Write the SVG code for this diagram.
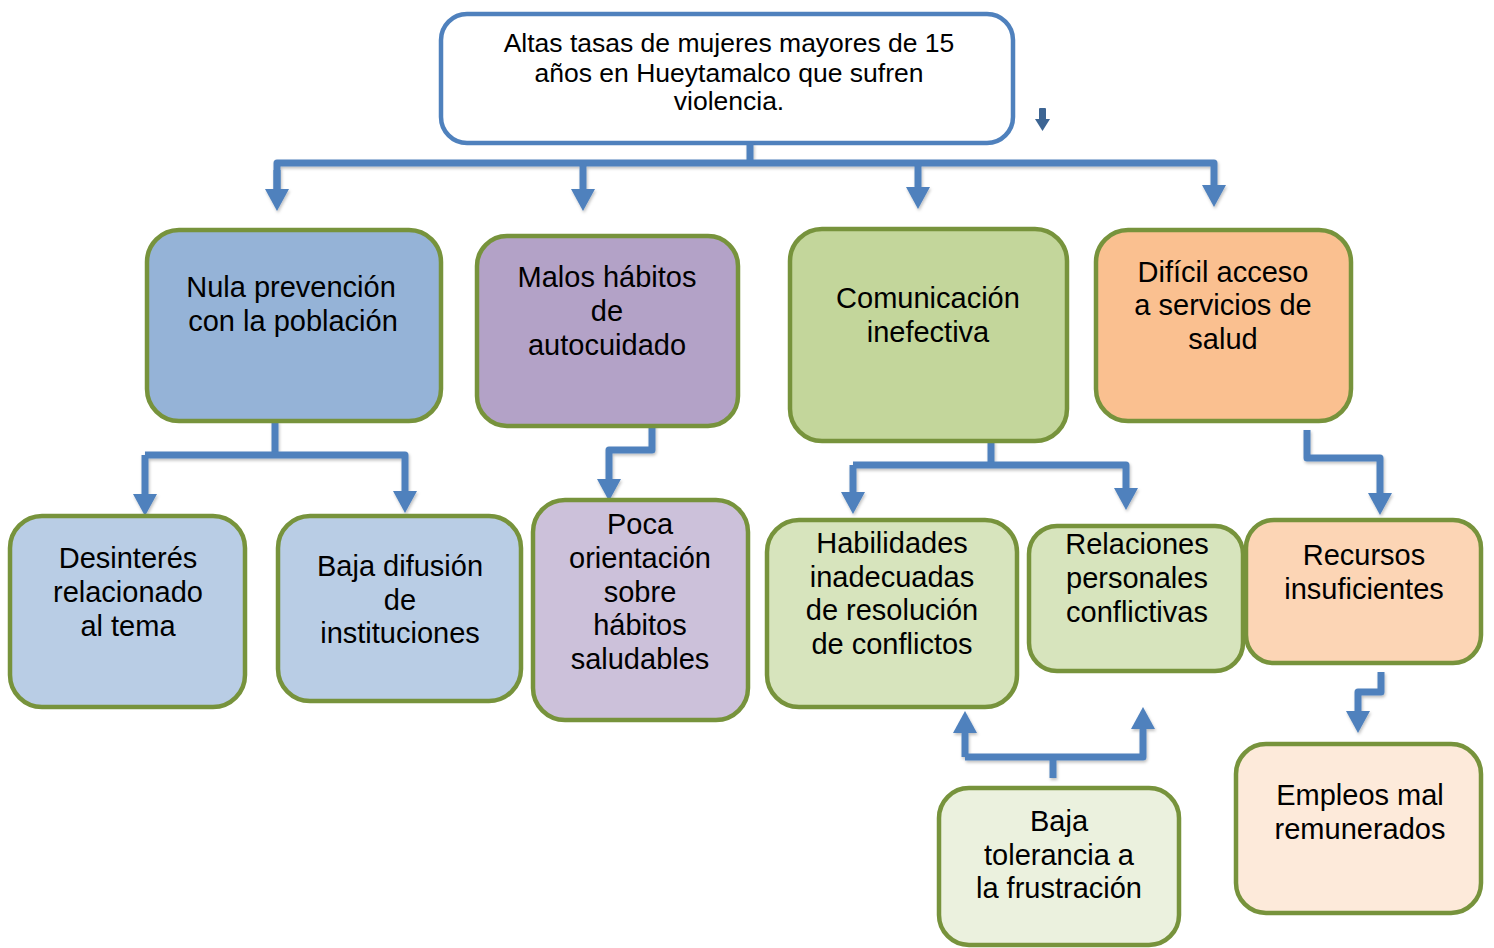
<svg xmlns="http://www.w3.org/2000/svg" width="1494" height="948" viewBox="0 0 1494 948">
<style>
.box{stroke:#77933c;stroke-width:4.5}
.t{font-family:"Liberation Sans",Arial,sans-serif;font-size:29px;fill:#000;text-anchor:middle}
.tt{font-family:"Liberation Sans",Arial,sans-serif;font-size:26.5px;fill:#000;text-anchor:middle}
.c{fill:none;stroke:#4f81bd;stroke-width:7;stroke-linejoin:round}
</style>
<defs>
<marker id="ah" markerUnits="userSpaceOnUse" markerWidth="22" markerHeight="24" viewBox="0 0 22 24" refX="1" refY="12" orient="auto">
<path d="M0,0 L22,12 L0,24 z" fill="#4f81bd"/>
</marker>
<filter id="sh" x="-5%" y="-5%" width="110%" height="120%">
<feDropShadow dx="1" dy="2" stdDeviation="1.5" flood-color="#000" flood-opacity="0.25"/>
</filter>
</defs>
<rect width="1494" height="948" fill="#fff"/>

<g id="top">
<rect x="441" y="14" width="572" height="129" rx="26" fill="#fff" stroke="#4f81bd" stroke-width="4.5"/>
<text class="tt" x="729" y="52">Altas tasas de mujeres mayores de 15</text>
<text class="tt" x="729" y="82">años en Hueytamalco que sufren</text>
<text class="tt" x="729" y="110">violencia.</text>
</g>
<g id="small-arrow">
<rect x="1039" y="108" width="7" height="13" rx="1" fill="#3d6593"/>
<polygon points="1035,119 1050,119 1042.5,131" fill="#3d6593"/>
</g>

<g id="connectors" filter="url(#sh)">
<path class="c" d="M750,143 V163"/>
<path class="c" d="M277,190 V163 H1214 V186" marker-end="url(#ah)"/>
<path class="c" d="M277,170 V190" marker-end="url(#ah)"/>
<path class="c" d="M583,163 V190" marker-end="url(#ah)"/>
<path class="c" d="M918,163 V188" marker-end="url(#ah)"/>
<path class="c" d="M275,421 V455"/>
<path class="c" d="M145,455 V495" marker-end="url(#ah)"/>
<path class="c" d="M145,455 H405 V492" marker-end="url(#ah)"/>
<path class="c" d="M652,424 V450 H609 V480" marker-end="url(#ah)"/>
<path class="c" d="M991,441 V465"/>
<path class="c" d="M853,465 V493" marker-end="url(#ah)"/>
<path class="c" d="M853,465 H1126 V489" marker-end="url(#ah)"/>
<path class="c" d="M1307,430 V458 H1380 V494" marker-end="url(#ah)"/>
<path class="c" d="M1053,778 V757"/>
<path class="c" d="M965,757 V732" marker-end="url(#ah)"/>
<path class="c" d="M965,757 H1143 V728" marker-end="url(#ah)"/>
<path class="c" d="M1381,672 V692 H1358 V712" marker-end="url(#ah)"/>
</g>

<g id="nula">
<rect class="box" x="147" y="230" width="294" height="191" rx="32" fill="#95b3d7"/>
<text class="t" x="291" y="297">Nula prevención</text>
<text class="t" x="293" y="331">con la población</text>
</g>
<g id="malos">
<rect class="box" x="477" y="236" width="261" height="190" rx="30" fill="#b3a2c7"/>
<text class="t" x="607" y="287">Malos hábitos</text>
<text class="t" x="607" y="321">de</text>
<text class="t" x="607" y="355">autocuidado</text>
</g>
<g id="comunicacion">
<rect class="box" x="790" y="229" width="277" height="212" rx="32" fill="#c3d69b"/>
<text class="t" x="928" y="308">Comunicación</text>
<text class="t" x="928" y="342">inefectiva</text>
</g>
<g id="dificil">
<rect class="box" x="1096" y="230" width="255" height="191" rx="32" fill="#fac090"/>
<text class="t" x="1223" y="282">Difícil acceso</text>
<text class="t" x="1223" y="315">a servicios de</text>
<text class="t" x="1223" y="349">salud</text>
</g>

<g id="desinteres">
<rect class="box" x="10" y="516" width="235" height="191" rx="32" fill="#b9cde5"/>
<text class="t" x="128" y="568">Desinterés</text>
<text class="t" x="128" y="602">relacionado</text>
<text class="t" x="128" y="636">al tema</text>
</g>
<g id="baja-difusion">
<rect class="box" x="278" y="516" width="243" height="185" rx="32" fill="#b9cde5"/>
<text class="t" x="400" y="576">Baja difusión</text>
<text class="t" x="400" y="610">de</text>
<text class="t" x="400" y="643">instituciones</text>
</g>
<g id="poca">
<rect class="box" x="533" y="500" width="215" height="220" rx="32" fill="#ccc1da"/>
<text class="t" x="640" y="534">Poca</text>
<text class="t" x="640" y="568">orientación</text>
<text class="t" x="640" y="602">sobre</text>
<text class="t" x="640" y="635">hábitos</text>
<text class="t" x="640" y="669">saludables</text>
</g>
<g id="habilidades">
<rect class="box" x="767" y="520" width="250" height="187" rx="32" fill="#d7e4bd"/>
<text class="t" x="892" y="553">Habilidades</text>
<text class="t" x="892" y="587">inadecuadas</text>
<text class="t" x="892" y="620">de resolución</text>
<text class="t" x="892" y="654">de conflictos</text>
</g>
<g id="relaciones">
<rect class="box" x="1029" y="526" width="214" height="145" rx="28" fill="#d7e4bd"/>
<text class="t" x="1137" y="554">Relaciones</text>
<text class="t" x="1137" y="588">personales</text>
<text class="t" x="1137" y="622">conflictivas</text>
</g>
<g id="recursos">
<rect class="box" x="1246" y="520" width="235" height="143" rx="28" fill="#fcd5b5"/>
<text class="t" x="1364" y="565">Recursos</text>
<text class="t" x="1364" y="599">insuficientes</text>
</g>
<g id="baja-tolerancia">
<rect class="box" x="939" y="788" width="240" height="157" rx="30" fill="#ebf1de"/>
<text class="t" x="1059" y="831">Baja</text>
<text class="t" x="1059" y="865">tolerancia a</text>
<text class="t" x="1059" y="898">la frustración</text>
</g>
<g id="empleos">
<rect class="box" x="1236" y="744" width="245" height="169" rx="30" fill="#fdeada"/>
<text class="t" x="1360" y="805">Empleos mal</text>
<text class="t" x="1360" y="839">remunerados</text>
</g>
</svg>
